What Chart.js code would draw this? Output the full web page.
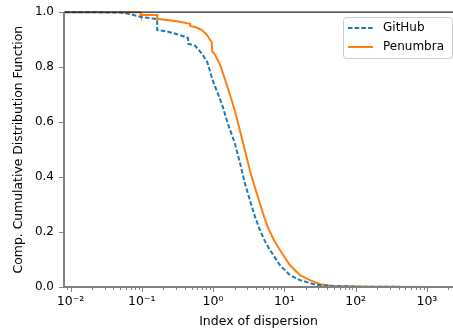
<!DOCTYPE html>
<html>
<head>
<meta charset="utf-8">
<script src="https://cdn.jsdelivr.net/npm/chart.js@4.4.0/dist/chart.umd.min.js"></script>
<style>
  html, body { margin: 0; padding: 0; background: #fff; overflow: hidden; }
  canvas { display: block; }
</style>
</head>
<body>
<canvas id="ccdf" width="453" height="333"></canvas>
<script>
// CCDF of the index of dispersion, one series per dataset
const githubX = [0.0084, 0.05, 0.0686, 0.101, 0.164, 0.1645, 0.226, 0.313, 0.446, 0.447, 0.559, 0.701, 0.824, 0.908, 0.968, 1.138, 1.337, 1.623, 2.035, 2.392, 2.811, 3.30, 3.88, 4.56, 5.36, 6.30, 8.71, 12.0, 16.6, 28.7, 48.2, 115, 1100];
const githubY = [1.0, 0.999, 0.993, 0.982, 0.975, 0.935, 0.930, 0.920, 0.906, 0.885, 0.878, 0.848, 0.820, 0.785, 0.758, 0.711, 0.664, 0.592, 0.520, 0.450, 0.375, 0.314, 0.255, 0.206, 0.166, 0.134, 0.079, 0.043, 0.025, 0.007, 0.004, 0.001, 0.0];

const penumbraX = [0.0084, 0.0947, 0.097, 0.164, 0.165, 0.313, 0.476, 0.477, 0.559, 0.701, 0.824, 0.908, 0.955, 0.978, 1.067, 1.254, 1.473, 1.847, 2.035, 2.392, 2.811, 3.30, 3.88, 4.56, 5.19, 5.91, 7.17, 8.71, 12.0, 16.6, 22.9, 31.7, 48.2, 159, 1683];
const penumbraY = [1.0, 1.0, 0.99, 0.99, 0.976, 0.967, 0.958, 0.95, 0.946, 0.935, 0.917, 0.899, 0.893, 0.856, 0.845, 0.809, 0.755, 0.675, 0.639, 0.567, 0.495, 0.422, 0.361, 0.303, 0.256, 0.215, 0.170, 0.134, 0.079, 0.043, 0.025, 0.01, 0.004, 0.001, 0.0];

const seriesNames = ['GitHub', 'Penumbra'];
const yTicks = [0.0, 0.2, 0.4, 0.6, 0.8, 1.0];
const decades = [-3, -2, -1, 0, 1, 2, 3];
const xMin = 0.0081;
const xMax = 2323;

const BLUE = '#1f77b4';
const ORANGE = '#ff7f0e';
const SPINE = '#808080';
const FONT = "'DejaVu Sans', sans-serif";

const toPoints = (xs, ys) => xs.map((x, i) => ({ x: x, y: ys[i] }));

// every 1..9 x 10^n inside the axis range
const xTickValues = [];
decades.forEach(d => {
  for (let k = 1; k <= 9; k++) {
    const v = k * Math.pow(10, d);
    if (v >= xMin && v <= xMax) xTickValues.push(v);
  }
});
const isMajor = v => {
  const e = Math.round(Math.log10(v));
  return Math.abs(v - Math.pow(10, e)) < 1e-9 * v;
};
const SUP = { '-': '\u207B', '0': '\u2070', '1': '\u00B9', '2': '\u00B2', '3': '\u00B3' };
const powLabel = v => '10' + String(Math.round(Math.log10(v))).split('').map(c => SUP[c]).join('');

// spines, tick marks and the legend box
const decorations = {
  id: 'decorations',
  afterDatasetsDraw(chart) {
    const { ctx, chartArea: a, scales } = chart;
    const xs = scales.x, ys = scales.y;
    ctx.save();

    // tick marks
    ctx.strokeStyle = SPINE;
    ctx.lineWidth = 1;
    xTickValues.forEach(v => {
      const px = Math.round(xs.getPixelForValue(v)) + 0.5;
      const len = isMajor(v) ? 5 : 3;
      ctx.beginPath();
      ctx.moveTo(px, a.bottom);
      ctx.lineTo(px, a.bottom + len);
      ctx.stroke();
    });
    yTicks.forEach(v => {
      const py = Math.round(ys.getPixelForValue(v)) + 0.5;
      ctx.beginPath();
      ctx.moveTo(a.left - 5, py);
      ctx.lineTo(a.left, py);
      ctx.stroke();
    });

    // top spine
    ctx.strokeStyle = '#222';
    ctx.lineWidth = 1.2;
    ctx.beginPath();
    ctx.moveTo(a.left, a.top);
    ctx.lineTo(a.right, a.top);
    ctx.stroke();

    // left + bottom spines
    ctx.strokeStyle = SPINE;
    ctx.lineWidth = 2;
    ctx.beginPath();
    ctx.moveTo(a.left, a.top);
    ctx.lineTo(a.left, a.bottom);
    ctx.lineTo(a.right, a.bottom);
    ctx.stroke();

    // legend
    const bx = 343, by = 17, bw = 109, bh = 41, r = 3;
    ctx.fillStyle = 'rgba(255,255,255,0.8)';
    ctx.strokeStyle = '#cccccc';
    ctx.lineWidth = 1;
    ctx.beginPath();
    ctx.roundRect(bx + 0.5, by + 0.5, bw, bh, r);
    ctx.fill();
    ctx.stroke();

    const rows = [
      { label: seriesNames[0], color: BLUE, dash: [4.5, 2.2], y: 28 },
      { label: seriesNames[1], color: ORANGE, dash: [], y: 47 }
    ];
    ctx.font = '12px ' + FONT;
    ctx.textBaseline = 'middle';
    ctx.textAlign = 'left';
    rows.forEach(row => {
      ctx.strokeStyle = row.color;
      ctx.lineWidth = 2;
      ctx.setLineDash(row.dash);
      ctx.beginPath();
      ctx.moveTo(348, row.y);
      ctx.lineTo(373, row.y);
      ctx.stroke();
      ctx.setLineDash([]);
      ctx.fillStyle = '#000';
      ctx.fillText(row.label, 383, row.y);
    });

    ctx.restore();
  }
};

new Chart(document.getElementById('ccdf'), {
  type: 'scatter',
  data: {
    datasets: [
      {
        label: seriesNames[0],
        data: toPoints(githubX, githubY),
        showLine: true,
        borderColor: BLUE,
        borderWidth: 2,
        borderDash: [4.5, 2.2],
        pointRadius: 0,
        fill: false,
        clip: false,
        order: 0
      },
      {
        label: seriesNames[1],
        data: toPoints(penumbraX, penumbraY),
        showLine: true,
        borderColor: ORANGE,
        borderWidth: 2,
        pointRadius: 0,
        fill: false,
        clip: false,
        order: 1
      }
    ]
  },
  options: {
    responsive: false,
    animation: false,
    events: [],
    layout: { padding: { top: 10, right: 0, left: 0, bottom: 0 } },
    plugins: {
      legend: { display: false },
      tooltip: { enabled: false }
    },
    scales: {
      x: {
        type: 'logarithmic',
        min: xMin,
        max: xMax,
        afterBuildTicks: scale => {
          scale.ticks = xTickValues.map(v => ({ value: v }));
        },
        afterFit: scale => { scale.height = 46; },
        grid: { display: true, drawOnChartArea: false, color: 'rgba(0,0,0,0)', tickLength: 5 },
        border: { display: false },
        ticks: {
          autoSkip: false,
          maxRotation: 0,
          padding: 2,
          color: '#000',
          font: { family: FONT, size: 12.5 },
          callback: v => isMajor(v) ? powLabel(v) : ''
        },
        title: {
          display: true,
          text: 'Index of dispersion',
          color: '#000',
          font: { family: FONT, size: 12.5 },
          padding: { top: 0, bottom: 4 }
        }
      },
      y: {
        min: 0,
        max: 1,
        afterBuildTicks: scale => {
          scale.ticks = yTicks.map(v => ({ value: v }));
        },
        afterFit: scale => { scale.width = 64; },
        grid: { display: true, drawOnChartArea: false, color: 'rgba(0,0,0,0)', tickLength: 5 },
        border: { display: false },
        ticks: {
          padding: 5,
          color: '#000',
          font: { family: FONT, size: 12 },
          callback: v => v.toFixed(1)
        },
        title: {
          display: true,
          text: 'Comp. Cumulative Distribution Function',
          color: '#000',
          font: { family: FONT, size: 12.4 },
          padding: { top: 11, bottom: 0 }
        }
      }
    }
  },
  plugins: [decorations]
});
</script>
</body>
</html>
